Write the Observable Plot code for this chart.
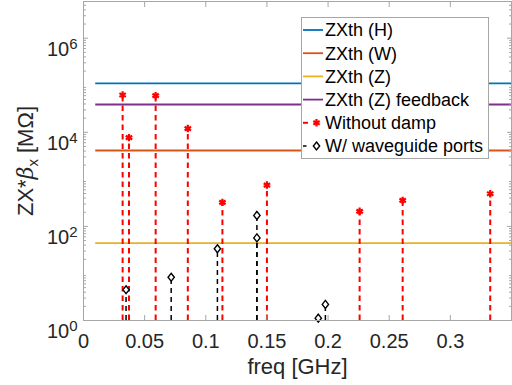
<!DOCTYPE html>
<html><head><meta charset="utf-8">
<script src="https://cdn.jsdelivr.net/npm/d3@7"></script>
<script src="https://cdn.jsdelivr.net/npm/@observablehq/plot@0.6"></script>
<style>body{margin:0;background:#fff} svg{display:block}</style>
</head><body><div id="chart"></div>
<script>
// ---- data ----
const thrNames = ["ZXth (H)", "ZXth (W)", "ZXth (Z)", "ZXth (Z) feedback"];
const thrValues = [1.1e5, 4.1e3, 44, 3.9e4];
const thrColors = ["#0072BD", "#D95319", "#EDB120", "#7E2F8E"];
const thrStart = 0.01, thrEnd = 0.35;
const noDampFreq = [0.032, 0.0372, 0.059, 0.0853, 0.1136, 0.150, 0.2258, 0.261, 0.3326];
const noDampZ = [6.2e4, 7.7e3, 6.0e4, 1.2e4, 324, 755, 209, 357, 495];
const wgFreq = [0.0348, 0.0717, 0.1095, 0.1418, 0.1418, 0.192, 0.1978];
const wgZ = [4.5, 8.3, 33.5, 171, 57, 1.12, 2.2];
const xTicks = [0, 0.05, 0.1, 0.15, 0.2, 0.25, 0.3];
const xTicksAll = [0, 0.05, 0.1, 0.15, 0.2, 0.25, 0.3, 0.35];
const yTicks = [1, 1e2, 1e4, 1e6];
const seriesNames = ["Without damp", "W/ waveguide ports"];
const baseline = 1;

// ---- build ----
const yMax = Math.pow(10, 6.78);
const minor = [];
for (let k = 0; k < 7; k++) for (let m = 2; m < 10; m++) { const v = m * 10 ** k; if (v < yMax) minor.push(v); }
const noDamp = noDampFreq.map((f, i) => ({f, z: noDampZ[i]}));
const wg = wgFreq.map((f, i) => ({f, z: wgZ[i]}));
const thr = thrNames.map((n, i) => ({n, v: thrValues[i], c: thrColors[i]}));
const axisGray = "#a6a6a6";
const FONT = "'Liberation Sans', Arial, sans-serif";
const diamond = {draw(ctx, size) { const h = Math.sqrt(size) * 0.62; const w = h * 0.8;
  ctx.moveTo(0, -h); ctx.lineTo(w, 0); ctx.lineTo(0, h); ctx.lineTo(-w, 0); ctx.closePath(); }};

const svg = Plot.plot({
  width: 512, height: 385,
  marginLeft: 83, marginRight: 1, marginTop: 1, marginBottom: 65,
  style: {fontFamily: FONT, fontSize: "19.5px", color: "#262626", background: "#fff"},
  x: {domain: [0, 0.35]},
  y: {type: "log", domain: [1, yMax]},
  color: {type: "identity"},
  marks: [
    Plot.ruleY(thr, {y: "v", x1: thrStart, x2: thrEnd, stroke: "c", strokeWidth: 1.8}),
    Plot.ruleX(noDamp, {x: "f", y1: baseline, y2: "z", stroke: "#FF0000", strokeWidth: 2, strokeDasharray: "5.5,4"}),
    Plot.ruleX(wg, {x: "f", y1: baseline, y2: "z", stroke: "#000", strokeWidth: 1.5, strokeDasharray: "5,4"}),
    Plot.dot(noDamp, {x: "f", y: "z", symbol: "asterisk", r: 3.5, stroke: "#FF0000", strokeWidth: 2.2}),
    Plot.dot(wg, {x: "f", y: "z", symbol: diamond, r: 3.6, stroke: "#000", fill: "#fff", strokeWidth: 1.4}),
    Plot.frame({stroke: axisGray}),
    Plot.axisX({ticks: xTicks, tickSize: 0, tickPadding: 13, fontSize: 20, tickFormat: d => String(d), label: null}),
    Plot.axisX({anchor: "bottom", ticks: xTicksAll, tickSize: -5, fill: "none", label: null, stroke: axisGray}),
    Plot.axisX({anchor: "top", ticks: xTicksAll, tickSize: -5, fill: "none", label: null, stroke: axisGray}),
    Plot.axisY({ticks: yTicks, tickSize: 0, tickPadding: 6, fontSize: 20, tickFormat: d => "10^" + Math.round(Math.log10(d)), label: null}),
    Plot.axisY({anchor: "left", ticks: yTicks, tickSize: -5, fill: "none", label: null, stroke: axisGray}),
    Plot.axisY({anchor: "right", ticks: yTicks, tickSize: -5, fill: "none", label: null, stroke: axisGray}),
    Plot.axisY({anchor: "left", ticks: minor, tickSize: -3, fill: "none", label: null, stroke: axisGray}),
    Plot.axisY({anchor: "right", ticks: minor, tickSize: -3, fill: "none", label: null, stroke: axisGray}),
    Plot.text(["freq [GHz]"], {frameAnchor: "bottom", dy: 46, lineAnchor: "middle", fontSize: 22, fill: "#262626"})
  ]
});
document.getElementById("chart").appendChild(svg);

const S = d3.select(svg);
// superscript exponents in y tick labels
S.selectAll('g[aria-label="y-axis tick label"] text').each(function() {
  const t = d3.select(this);
  const s = t.text();
  const [b, e] = s.split("^");
  t.text(null).attr("dy", "0.55em");
  t.append("tspan").text(b);
  t.append("tspan").attr("font-size", 15).attr("dy", -6.5).text(e);
});

// y label
const yl = S.append("text").attr("transform", "translate(33,161) rotate(-90)")
  .attr("text-anchor", "middle").attr("font-family", FONT).attr("font-size", 22).attr("fill", "#262626");
yl.append("tspan").text("ZX*");
yl.append("tspan").attr("font-family", "'DejaVu Serif', serif").attr("font-style", "italic").text("β");
yl.append("tspan").attr("font-size", 15).attr("dy", 5).text("x");
yl.append("tspan").attr("dy", -5).text(" [MΩ]");

// legend
const lg = S.append("g").attr("text-anchor", "start").attr("font-family", FONT);
lg.append("rect").attr("x", 301.5).attr("y", 17.5).attr("width", 187).attr("height", 141)
  .attr("fill", "#fff").attr("stroke", axisGray);
const rowY = i => 30 + i * 23.2;
const labels = thrNames.concat(seriesNames);
thr.forEach((d, i) => {
  lg.append("line").attr("x1", 303).attr("x2", 323).attr("y1", rowY(i)).attr("y2", rowY(i))
    .attr("stroke", d.c).attr("stroke-width", 1.8);
});
lg.append("line").attr("x1", 303).attr("x2", 308).attr("y1", rowY(4)).attr("y2", rowY(4))
  .attr("stroke", "#FF0000").attr("stroke-width", 2);
lg.append("path").attr("d", d3.symbol(d3.symbolAsterisk, 3.5 * 3.5 * Math.PI)())
  .attr("transform", `translate(316.5,${rowY(4)})`).attr("stroke", "#FF0000").attr("stroke-width", 2.2).attr("fill", "none");
lg.append("line").attr("x1", 303).attr("x2", 306.5).attr("y1", rowY(5)).attr("y2", rowY(5))
  .attr("stroke", "#000").attr("stroke-width", 1.5);
lg.append("path").attr("d", d3.symbol(diamond, 3.6 * 3.6 * Math.PI)())
  .attr("transform", `translate(316.5,${rowY(5)})`).attr("stroke", "#000").attr("stroke-width", 1.4).attr("fill", "#fff");
labels.forEach((t, i) => {
  lg.append("text").attr("x", 325).attr("y", rowY(i)).attr("dy", "0.36em")
    .attr("font-size", 18).attr("fill", "#000").text(t);
});
</script>
</body></html>
